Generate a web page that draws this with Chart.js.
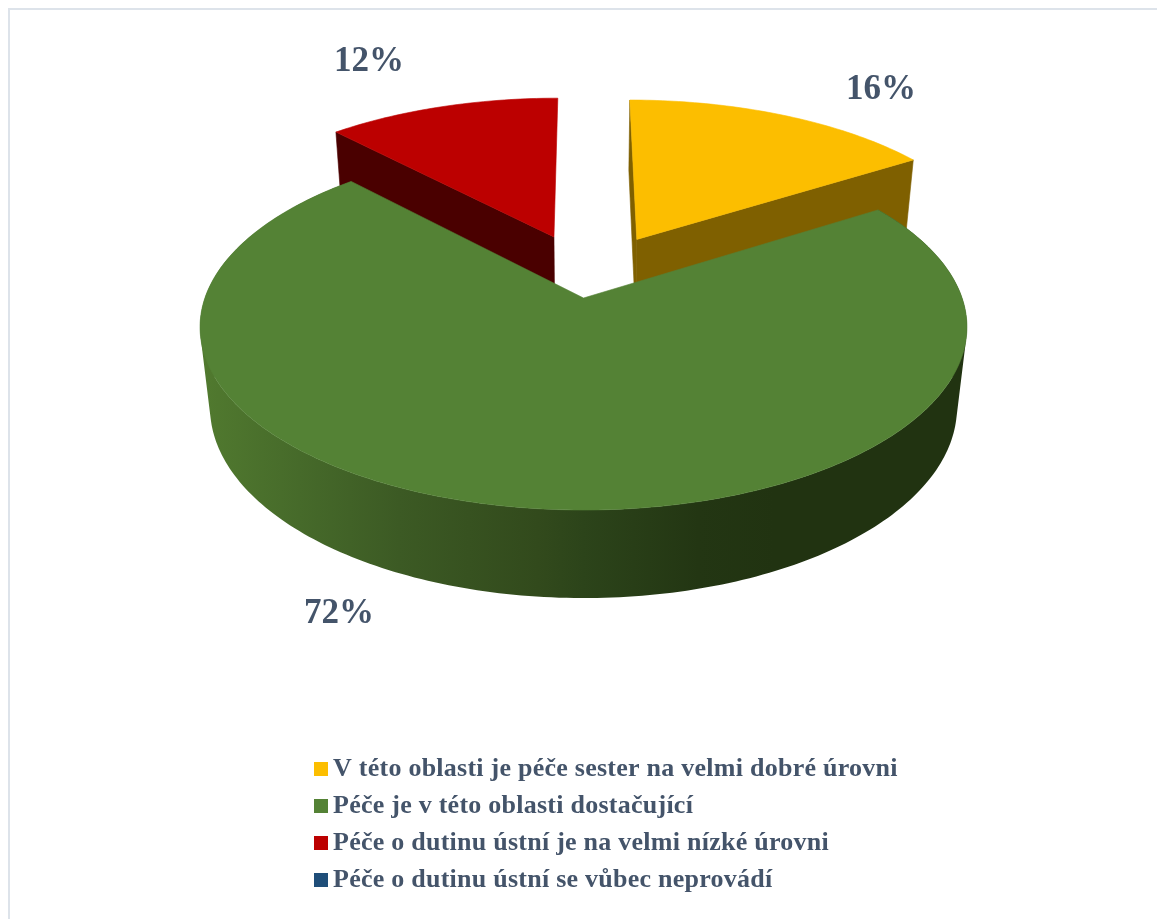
<!DOCTYPE html>
<html>
<head>
<meta charset="utf-8">
<script src="https://cdn.jsdelivr.net/npm/chart.js@4"></script>
<style>
    html, body { margin: 0; padding: 0; background: #fff; }
    #wrap { position: absolute; left: 0; top: 0; width: 1157px; height: 919px; }
</style>
</head>
<body>
<div id="wrap"><canvas id="chart1"></canvas></div>
<script>
const categories = [
    "V této oblasti je péče sester na velmi dobré úrovni",
    "Péče je v této oblasti dostačující",
    "Péče o dutinu ústní je na velmi nízké úrovni",
    "Péče o dutinu ústní se vůbec neprovádí"
];
const percents = [16, 72, 12, 0];
const top_colors = ["#FCBE00", "#548235", "#BC0000", "#1F4E79"];
const side_colors = ["#7F6000", "#548235", "#4A0000", "#0F2740"];

// pie plane seen through a simple pinhole camera
const cam = { x: 583.5, y: 298, a: 378.6, b: 178.4, k: 0.1585, drop: 81.9, far: 0.026 };
// how far each slice is pulled out of the pie, in radii
const pull = [[0.1485, -0.3465], [0, 0], [-0.0825, -0.362], [0, 0]];
const label_pos = [[881, 90], [339, 614], [369, 62]];
const text_color = "#44546A";

function project(u, v, low) {
    const w = 1 - cam.k * v + (low ? cam.far : 0);
    return [cam.x + cam.a * u / w, cam.y + (cam.b * v + (low ? cam.drop : 0)) / w];
}

// outer edge of a slice, one point per degree
function rim(arc, shift, low) {
    const pts = [];
    const steps = Math.ceil((arc.endAngle - arc.startAngle) / (Math.PI / 180));
    for (let s = 0; s <= steps; s++) {
        const t = arc.startAngle + (arc.endAngle - arc.startAngle) * s / steps;
        pts.push(project(Math.cos(t) + shift[0], Math.sin(t) + shift[1], low));
    }
    return pts;
}

function fill_poly(ctx, pts, fill) {
    ctx.beginPath();
    pts.forEach((p, i) => i ? ctx.lineTo(p[0], p[1]) : ctx.moveTo(p[0], p[1]));
    ctx.closePath();
    ctx.fillStyle = fill;
    ctx.strokeStyle = fill;
    ctx.lineWidth = 0.6;
    ctx.fill();
    ctx.stroke();
}

function green_side(ctx) {
    const g = ctx.createLinearGradient(200, 0, 967, 0);
    g.addColorStop(0, "#517A2F");
    g.addColorStop(0.13, "#466A2A");
    g.addColorStop(0.26, "#3C5A24");
    g.addColorStop(0.44, "#324A1C");
    g.addColorStop(0.5, "#2C441A");
    g.addColorStop(0.65, "#233613");
    g.addColorStop(0.75, "#213311");
    g.addColorStop(1, "#213311");
    return g;
}

// outer wall as one path: every quad gets the same winding so nothing cancels and no seams show
function fill_wall(ctx, up, down, fill) {
    ctx.beginPath();
    for (let s = 0; s < up.length - 1; s++) {
        let q = [up[s], up[s + 1], down[s + 1], down[s]];
        let area = 0;
        q.forEach((p, j) => {
            const n = q[(j + 1) % 4];
            area += p[0] * n[1] - n[0] * p[1];
        });
        if (area < 0) q = q.reverse();
        q.forEach((p, j) => j ? ctx.lineTo(p[0], p[1]) : ctx.moveTo(p[0], p[1]));
        ctx.closePath();
    }
    ctx.fillStyle = fill;
    ctx.fill();
}

function draw_slice(ctx, arc, i) {
    const shift = pull[i];
    const up = rim(arc, shift, false);
    const down = rim(arc, shift, true);
    const apex_up = project(shift[0], shift[1], false);
    const apex_down = project(shift[0], shift[1], true);
    const last = up.length - 1;
    if (i === 1) {
        // only the big slice shows its rounded wall, the other two point away
        fill_wall(ctx, up, down, green_side(ctx));
    } else {
        fill_poly(ctx, [apex_up, up[0], down[0], apex_down], side_colors[i]);
        // red has no dark wall along its right edge
        if (i !== 2) {
            fill_poly(ctx, [apex_up, up[last], down[last], apex_down], side_colors[i]);
        }
    }
    fill_poly(ctx, [apex_up].concat(up), top_colors[i]);
}

const pie3d = {
    id: "pie3d",
    beforeDraw(chart) {
        const ctx = chart.ctx;
        ctx.fillStyle = "#DDE3EA";
        ctx.fillRect(8, 8, chart.width - 8, 2);
        ctx.fillRect(8, 8, 2, chart.height - 8);
        ctx.letterSpacing = "0.25px";
    },
    afterLayout(chart) {
        // legend column sits under the pie, box left edge at x=314
        const lg = chart.legend;
        const pad = lg.options.labels.padding;
        lg.left = 319 - pad;
        lg.right = chart.width;
        lg.top = 769 - pad - 13;
        lg.bottom = chart.height;
    },
    beforeDatasetDraw(chart, args) {
        const ctx = chart.ctx;
        const arcs = args.meta.data;
        ctx.save();
        ctx.letterSpacing = "0px";
        // back slices first, the big front slice covers them
        [2, 0, 1].forEach(i => draw_slice(ctx, arcs[i], i));
        ctx.font = "bold 35px 'Liberation Serif'";
        ctx.fillStyle = text_color;
        ctx.textAlign = "center";
        ctx.textBaseline = "middle";
        label_pos.forEach((p, i) => ctx.fillText(percents[i] + "%", p[0], p[1]));
        ctx.restore();
        return false;
    }
};

// legend marker, wider than the square so it sits close to the text
function square(color) {
    const c = document.createElement("canvas");
    c.width = 17;
    c.height = 14;
    const x = c.getContext("2d");
    x.fillStyle = color;
    x.fillRect(3, 0, 14, 14);
    return c;
}

new Chart(document.getElementById("chart1"), {
    type: "pie",
    data: {
        labels: categories,
        datasets: [{ data: percents, backgroundColor: top_colors, borderWidth: 0 }]
    },
    options: {
        responsive: true,
        maintainAspectRatio: false,
        animation: { duration: 0 },
        plugins: {
            tooltip: { enabled: false },
            legend: {
                position: "left",
                align: "start",
                labels: {
                    color: text_color,
                    font: { family: "'Liberation Serif'", size: 26, weight: "bold" },
                    padding: 11,
                    boxHeight: 14,
                    usePointStyle: true,
                    pointStyleWidth: 1,
                    generateLabels(chart) {
                        const items = Chart.overrides.pie.plugins.legend.labels.generateLabels(chart);
                        return items.map((it, i) => Object.assign(it, { pointStyle: square(top_colors[i]) }));
                    }
                }
            }
        }
    },
    plugins: [pie3d]
});
</script>
</body>
</html>
